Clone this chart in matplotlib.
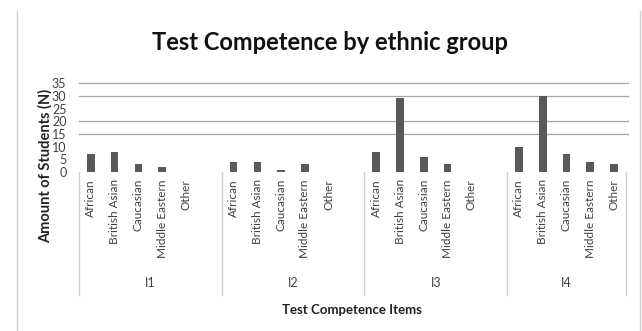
import numpy as np
import matplotlib
matplotlib.use('Agg')
import matplotlib.pyplot as plt
from matplotlib.lines import Line2D
import matplotlib.transforms as mtransforms

plt.rcParams['font.family'] = ['Lato', 'DejaVu Sans']

# counts per test item (I1..I4), one value per ethnic group
groups = ['African', 'British Asian', 'Caucasian', 'Middle Eastern', 'Other']
items = ['I1', 'I2', 'I3', 'I4']
i1 = [7, 8, 3, 2, 0]
i2 = [4, 4, 1, 3, 0]
i3 = [8, 29, 6, 3, 0]
i4 = [10, 30, 7, 4, 3]
counts = [i1, i2, i3, i4]

fig = plt.figure(figsize=(6.42, 3.31), dpi=100)
ax = fig.add_axes([0.123, 0.480, 0.852, 0.269])

# each item gets 5 slots plus an empty one as spacer (not after the last)
slot = len(groups) + 1
xpos, labels = [], []
for k, vals in enumerate(counts):
    x = k * slot + np.arange(len(groups))
    ax.bar(x, vals, width=0.32, color='#595959', zorder=3)
    xpos.extend(x)
    labels.extend(groups)

n_slots = slot * len(items) - 1
ax.set_xlim(-0.5, n_slots - 0.5)
ax.set_ylim(0, 35)
ax.set_yticks(range(0, 36, 5))
ax.tick_params(axis='y', length=0, labelsize=9, labelcolor='#404040', pad=9)
ax.set_xticks(xpos)
ax.set_xticklabels(labels, rotation=90, fontsize=8.5, color='#404040')
ax.tick_params(axis='x', length=0, pad=5)
for s in ax.spines.values():
    s.set_visible(False)

# horizontal grid lines
for g in [15, 20, 30, 35]:
    ax.axhline(g, color='#a6a6a6', lw=0.9, zorder=1, xmax=1.003, clip_on=False)

# group dividers of the two-level category axis
trans = mtransforms.blended_transform_factory(ax.transData, ax.transAxes)
bounds = [-0.5] + [k * slot - 0.5 for k in range(1, len(items))] + [n_slots - 0.5]
for b in bounds:
    ax.add_line(Line2D([b, b], [0, -1.38], transform=trans, color='#d0d0d0',
                       lw=1.0, clip_on=False))
for k, name in enumerate(items):
    mid = (bounds[k] + bounds[k + 1]) / 2
    ax.text(mid, -1.24, name, transform=trans, ha='center', va='center',
            fontsize=9, color='#404040')

fig.text(0.514, 0.872, 'Test Competence by ethnic group', ha='center', va='center',
         fontsize=17, fontweight='bold', color='#111111')
fig.text(0.070, 0.50, 'Amount of Students (N)', rotation=90, ha='center', va='center',
         fontsize=10.5, fontweight='bold', color='#222222')
fig.text(0.548, 0.063, 'Test Competence Items', ha='center', va='center',
         fontsize=9.5, fontweight='bold', color='#222222')

# outer chart frame (left/right edges)
for fx in [0.026, 0.997]:
    fig.add_artist(Line2D([fx, fx], [0, 0.967], transform=fig.transFigure,
                          color='#d0d0d0', lw=1.0))

fig.savefig('out.png', dpi=100, facecolor='white')
